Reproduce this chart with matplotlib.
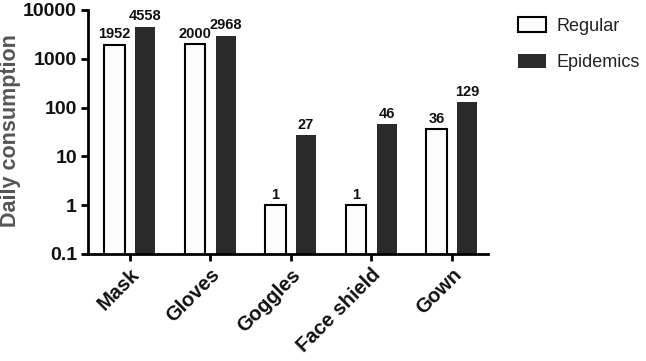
import matplotlib
matplotlib.use("Agg")
import matplotlib.pyplot as plt
import numpy as np

categories = ["Mask", "Gloves", "Goggles", "Face shield", "Gown"]
regular = [1952, 2000, 1, 1, 36]
epidemics = [4558, 2968, 27, 46, 129]
series_names = ["Regular", "Epidemics"]
ytick_vals = [0.1, 1, 10, 100, 1000, 10000]
ytick_labels = ["0.1", "1", "10", "100", "1000", "10000"]

plt.rcParams['font.family'] = ['Liberation Sans', 'DejaVu Sans']

fig = plt.figure(figsize=(6.46, 3.61), dpi=100)
ax = fig.add_axes([88/646, 1-254/361, (488-88)/646, (254-10)/361])

x = np.arange(len(categories))
w = 0.25
off = 0.19
b1 = ax.bar(x - off, regular, w, color="#fdfdfd", edgecolor="black", linewidth=1.5,
            label=series_names[0], zorder=2)
b2 = ax.bar(x + off, epidemics, w, color="#2b2b2b", edgecolor="#2b2b2b", linewidth=0,
            label=series_names[1], zorder=2)

ax.set_yscale("log")
ax.set_ylim(0.1, 10000)
ax.set_xlim(-0.52, 4.45)
ax.set_yticks(ytick_vals)
ax.set_yticklabels(ytick_labels)
ax.yaxis.set_minor_locator(matplotlib.ticker.NullLocator())
ax.set_xticks(x)
ax.set_xticklabels(categories, rotation=45, ha="right", rotation_mode="anchor")

for lab in ax.get_yticklabels():
    lab.set_fontweight("bold")
    lab.set_fontsize(14)
    lab.set_color("#111111")
for lab in ax.get_xticklabels():
    lab.set_fontweight("bold")
    lab.set_fontsize(14.5)
    lab.set_color("#111111")

ax.tick_params(axis="both", width=2, length=5, direction="out", pad=3)
for s in ["top", "right"]:
    ax.spines[s].set_visible(False)
for s in ["left", "bottom"]:
    ax.spines[s].set_linewidth(2)

ax.set_ylabel("Daily consumption", fontsize=15.5, fontweight="bold", color="#555555")
ax.yaxis.set_label_coords(11/646, 0.5, transform=fig.transFigure)
ax.yaxis.label.set_verticalalignment("center")
ax.yaxis.label.set_y(1-131/361)

for bars, vals in ((b1, regular), (b2, epidemics)):
    for r, v in zip(bars, vals):
        ax.annotate(str(v), (r.get_x() + r.get_width()/2, v), xytext=(0, 2.5),
                    textcoords="offset points", ha="center", va="bottom",
                    fontsize=10.5, fontweight="bold", color="#111111")

leg = ax.legend(loc="upper left", bbox_to_anchor=(504/646, 1-3/361), bbox_transform=fig.transFigure,
                frameon=False, fontsize=13, handlelength=1.55, handleheight=0.85,
                labelspacing=1.05, handletextpad=0.55, borderpad=0.3)
for t in leg.get_texts():
    t.set_color("#222222")

fig.savefig("out.png", dpi=100)
